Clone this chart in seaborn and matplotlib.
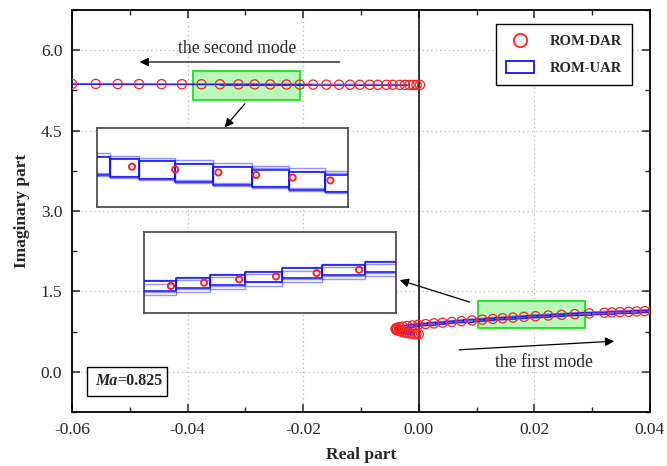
import matplotlib
matplotlib.use("Agg")
import matplotlib.pyplot as plt
import seaborn as sns
from matplotlib.patches import Rectangle, Patch
from matplotlib.lines import Line2D
from matplotlib.collections import PatchCollection
from matplotlib.ticker import MultipleLocator

# ---------------- eigenvalue data ----------------
# second mode, ROM-DAR
mode2_dar_re = [-0.0600, -0.0559, -0.0521, -0.0484, -0.0445, -0.0410, -0.0376,
                -0.0344, -0.0312, -0.0284, -0.0257, -0.0229, -0.0206, -0.0183,
                -0.0160, -0.0138, -0.0119, -0.0102, -0.0085, -0.0071, -0.0056,
                -0.0045, -0.0033, -0.0024, -0.0016, -0.0010, -0.0004, 0.0002]
mode2_dar_im = [5.3720, 5.3706, 5.3693, 5.3681, 5.3668, 5.3656, 5.3645,
                5.3635, 5.3624, 5.3615, 5.3606, 5.3596, 5.3589, 5.3581,
                5.3573, 5.3566, 5.3560, 5.3554, 5.3548, 5.3544, 5.3539,
                5.3535, 5.3531, 5.3528, 5.3525, 5.3523, 5.3521, 5.3519]

# second mode, ROM-UAR
mode2_uar_re = [-0.0615, -0.0578, -0.0540, -0.0502, -0.0465, -0.0428, -0.0392,
                -0.0371, -0.0344, -0.0316, -0.0287, -0.0260, -0.0233, -0.0209,
                -0.0186, -0.0163, -0.0141, -0.0122, -0.0104, -0.0088, -0.0073,
                -0.0059, -0.0047, -0.0036, -0.0027, -0.0020]
mode2_uar_im = [5.3723, 5.3710, 5.3697, 5.3684, 5.3671, 5.3659, 5.3647,
                5.3640, 5.3633, 5.3622, 5.3612, 5.3603, 5.3594, 5.3586,
                5.3578, 5.3570, 5.3563, 5.3557, 5.3551, 5.3545, 5.3540,
                5.3536, 5.3532, 5.3528, 5.3525, 5.3523]

# first mode, ROM-DAR
mode1_dar_re = [0.0000, -0.0004, -0.0008, -0.0012, -0.0016, -0.0020, -0.0024,
                -0.0028, -0.0032, -0.0035, -0.0038, -0.0040, -0.0040, -0.0038,
                -0.0034, -0.0028, -0.0020, -0.0011, -0.0001, 0.0012, 0.0026,
                0.0041, 0.0057, 0.0074, 0.0092, 0.0110, 0.0128, 0.0145,
                0.0163, 0.0182, 0.0202, 0.0224, 0.0247, 0.0270, 0.0295,
                0.0321, 0.0334, 0.0348, 0.0363, 0.0377, 0.0391, 0.0405]
mode1_dar_im = [0.700, 0.703, 0.707, 0.712, 0.718, 0.725, 0.733,
                0.742, 0.753, 0.765, 0.778, 0.792, 0.806, 0.819,
                0.831, 0.842, 0.853, 0.864, 0.876, 0.889, 0.902,
                0.916, 0.930, 0.944, 0.958, 0.972, 0.985, 0.998,
                1.011, 1.024, 1.036, 1.049, 1.062, 1.075, 1.088,
                1.101, 1.107, 1.113, 1.119, 1.125, 1.131, 1.137]

# first mode, ROM-UAR
mode1_uar_re = [-0.0010, -0.0016, -0.0022, -0.0027, -0.0031, -0.0035, -0.0038,
                -0.0039, -0.0039, -0.0037, -0.0033, -0.0027, -0.0019, -0.0010,
                0.0001, 0.0014, 0.0028, 0.0043, 0.0059, 0.0076, 0.0094,
                0.0112, 0.0130, 0.0148, 0.0166, 0.0185, 0.0205, 0.0227,
                0.0250, 0.0273, 0.0298, 0.0324, 0.0337, 0.0351, 0.0365,
                0.0379, 0.0393, 0.0407]
mode1_uar_im = [0.712, 0.720, 0.729, 0.740, 0.751, 0.764, 0.778,
                0.792, 0.806, 0.818, 0.830, 0.841, 0.852, 0.863,
                0.875, 0.888, 0.901, 0.915, 0.929, 0.943, 0.957,
                0.971, 0.984, 0.997, 1.010, 1.022, 1.035, 1.048,
                1.061, 1.074, 1.087, 1.100, 1.106, 1.112, 1.118,
                1.124, 1.130, 1.136]

x_ticks = [-0.06, -0.04, -0.02, 0.00, 0.02, 0.04]
x_tick_labels = ["-0.06", "-0.04", "-0.02", "0.00", "0.02", "0.04"]
y_ticks = [0.0, 1.5, 3.0, 4.5, 6.0]
y_tick_labels = ["0.0", "1.5", "3.0", "4.5", "6.0"]
series_labels = ["ROM-DAR", "ROM-UAR"]
mach_value = "=0.825"

# ---------------- styling ----------------
sns.set_theme(style="ticks")
plt.rcParams["font.family"] = ["Liberation Serif", "DejaVu Serif"]
plt.rcParams["axes.unicode_minus"] = False
plt.rcParams["xtick.direction"] = "in"
plt.rcParams["ytick.direction"] = "in"

RED = "#ff2020"
BLUE = "#1010ff"
BOX_H_MODE2 = 0.0062
BOX_H_MODE1 = 0.040


def uar_boxes(ax, re, im, height, lw, alpha=1.0, span=1, zorder=3):
    """Uncertainty boxes spanning ROM-UAR samples `span` steps apart."""
    rects = [Rectangle((re[i], im[i + 1] - height / 2), re[i + span] - re[i], height)
             for i in range(len(re) - span)]
    pc = PatchCollection(rects, facecolor="none", edgecolor=BLUE,
                         linewidth=lw, alpha=alpha, zorder=zorder)
    ax.add_collection(pc)


fig = plt.figure(figsize=(6.67, 4.66), dpi=100)
ax = fig.add_axes([0.108, 0.116, 0.8665, 0.8625])

ax.set_xlim(-0.06, 0.04)
ax.set_ylim(-0.75, 6.75)
ax.set_xticks(x_ticks)
ax.set_xticklabels(x_tick_labels)
ax.set_yticks(y_ticks)
ax.set_yticklabels(y_tick_labels)
ax.xaxis.set_minor_locator(MultipleLocator(0.01))
ax.yaxis.set_minor_locator(MultipleLocator(0.75))
ax.tick_params(which="major", length=6, width=1.1, top=True, right=True,
               labelsize=12.5, pad=7)
ax.tick_params(which="minor", length=3.5, width=1.0, top=True, right=True)
for s in ax.spines.values():
    s.set_linewidth(1.3)
    s.set_color("black")
ax.grid(True, which="major", color="#b5b5b5", linestyle=(0, (1, 2.5)), linewidth=0.9)
ax.set_axisbelow(True)
ax.axvline(0.0, color="black", linewidth=1.1, zorder=1)

ax.set_xlabel("Real part", fontsize=12.5, fontweight="bold", labelpad=7)
ax.set_ylabel("Imaginary part", fontsize=12.5, fontweight="bold", labelpad=8)

# highlighted zoom regions
for (x0, y0, w, h) in [(-0.0391, 5.07, 0.0185, 0.54), (0.0102, 0.81, 0.0185, 0.51)]:
    ax.add_patch(Rectangle((x0, y0), w, h, facecolor="#b8f8b8", edgecolor="#1ee01e",
                           linewidth=1.3, zorder=2))

# ROM-UAR: boxes plus centre line
for re, im, h, lw in [(mode2_uar_re, mode2_uar_im, BOX_H_MODE2, 1.5),
                      (mode1_uar_re, mode1_uar_im, BOX_H_MODE1, 3.0)]:
    uar_boxes(ax, re, im, h, lw=0.8, alpha=0.75)
    sns.lineplot(x=re, y=im, sort=False, estimator=None, color=BLUE,
                 linewidth=lw, alpha=0.65, ax=ax, zorder=3)

# ROM-DAR: open circles
for re, im in [(mode2_dar_re, mode2_dar_im), (mode1_dar_re, mode1_dar_im)]:
    sns.scatterplot(x=re, y=im, marker="o", s=44, facecolors="none",
                    edgecolor=RED, linewidth=0.9, ax=ax, zorder=4, clip_on=True)

# legend
handles = [Line2D([], [], marker="o", linestyle="none", markerfacecolor="none",
                  markeredgecolor=RED, markersize=9.5, markeredgewidth=1.3),
           Patch(facecolor="none", edgecolor=BLUE, linewidth=1.3)]
leg = ax.legend(handles, series_labels, loc="upper right",
                bbox_to_anchor=(0.969, 0.965), borderaxespad=0,
                prop={"family": "Liberation Serif", "weight": "bold", "size": 10.5},
                frameon=True, fancybox=False, edgecolor="black", framealpha=1,
                handlelength=1.9, handleheight=0.9, handletextpad=1.1,
                labelspacing=0.85, borderpad=0.7)
leg.get_frame().set_linewidth(1.0)

# annotations
arrow_kw = dict(arrowstyle="-|>", color="black", lw=0.9, mutation_scale=13,
                shrinkA=0, shrinkB=0)
ax.text(-0.0314, 6.04, "the second mode", fontsize=12.7, ha="center", va="center")
ax.annotate("", xy=(-0.0483, 5.78), xytext=(-0.0137, 5.78), arrowprops=arrow_kw)
ax.text(0.0216, 0.17, "the first mode", fontsize=12.7, ha="center", va="center")
ax.annotate("", xy=(0.0338, 0.57), xytext=(0.0070, 0.41), arrowprops=arrow_kw)
ax.annotate("", xy=(-0.0336, 4.56), xytext=(-0.0301, 5.00), arrowprops=arrow_kw)
ax.annotate("", xy=(-0.0033, 1.71), xytext=(0.0088, 1.30), arrowprops=arrow_kw)

# Mach number box
ax.add_patch(Rectangle((0.026, 0.040), 0.138, 0.072, transform=ax.transAxes,
                       facecolor="white", edgecolor="black", linewidth=1.0, zorder=5))
t1 = ax.text(0.040, 0.076, "Ma", transform=ax.transAxes, fontsize=11.5,
             fontweight="bold", fontstyle="italic", va="center", ha="left", zorder=6)
ax.annotate(mach_value, xy=(1.0, 0.0), xycoords=t1, va="bottom", ha="left",
            fontsize=11.5, fontweight="bold", zorder=6)

# zoomed views
insets = [
    ([0.1454, 0.5558, 0.3763, 0.1695], (-0.0402, -0.0216), (5.3501, 5.3783),
     mode2_dar_re, mode2_dar_im, mode2_uar_re, mode2_uar_im, BOX_H_MODE2),
    ([0.2159, 0.3277, 0.3778, 0.1738], (0.01304, 0.0267), (0.890, 1.210),
     mode1_dar_re, mode1_dar_im, mode1_uar_re, mode1_uar_im, BOX_H_MODE1),
]
for rect, xl, yl, dre, dim, ure, uim, bh in insets:
    ia = fig.add_axes(rect)
    ia.set_facecolor("white")
    ia.set_xlim(*xl)
    ia.set_ylim(*yl)
    ia.set_xticks([])
    ia.set_yticks([])
    ia.grid(False)
    for s in ia.spines.values():
        s.set_linewidth(1.3)
        s.set_color("#505050")
    uar_boxes(ia, ure, uim, bh * 1.15, lw=1.0, alpha=0.45, span=2)
    uar_boxes(ia, ure, uim, bh, lw=1.2, alpha=0.95)
    sns.scatterplot(x=dre, y=dim, marker="o", s=20, facecolors="none",
                    edgecolor=RED, linewidth=1.4, ax=ia, zorder=4)

fig.savefig("out.png", dpi=100)
